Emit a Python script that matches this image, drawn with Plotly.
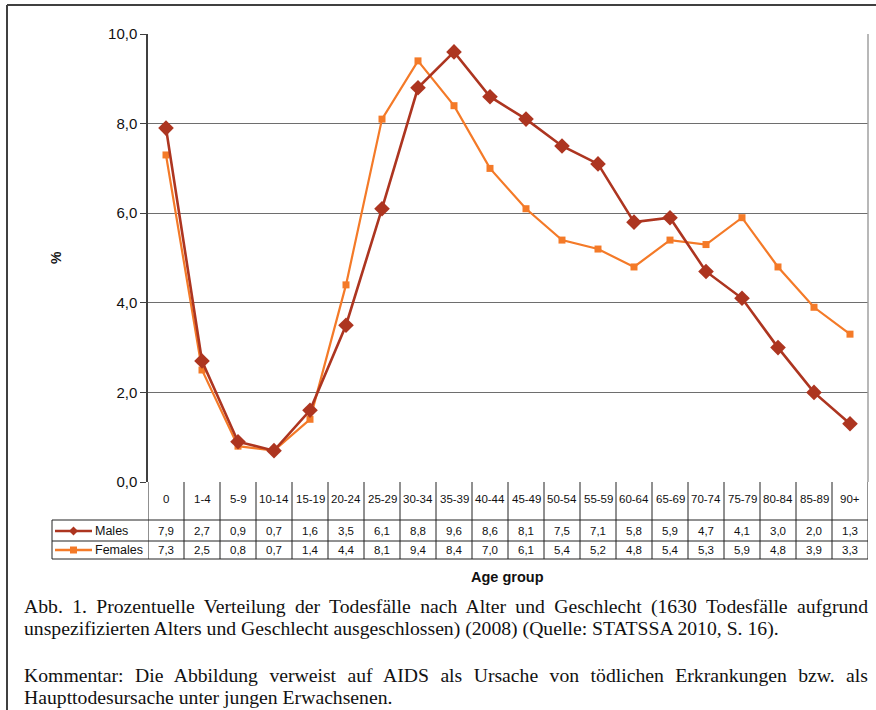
import plotly.graph_objects as go

categories = ["0", "1-4", "5-9", "10-14", "15-19", "20-24", "25-29", "30-34", "35-39",
              "40-44", "45-49", "50-54", "55-59", "60-64", "65-69", "70-74", "75-79",
              "80-84", "85-89", "90+"]
males = [7.9, 2.7, 0.9, 0.7, 1.6, 3.5, 6.1, 8.8, 9.6, 8.6, 8.1, 7.5, 7.1, 5.8, 5.9, 4.7, 4.1, 3.0, 2.0, 1.3]
females = [7.3, 2.5, 0.8, 0.7, 1.4, 4.4, 8.1, 9.4, 8.4, 7.0, 6.1, 5.4, 5.2, 4.8, 5.4, 5.3, 5.9, 4.8, 3.9, 3.3]
y_ticks = [0, 2, 4, 6, 8, 10]
y_tick_labels = ["0,0", "2,0", "4,0", "6,0", "8,0", "10,0"]

W, H = 876, 710
L, R, T, B = 148, 868, 34, 482
n = len(categories)

MALE_C = "#AD3520"
FEMALE_C = "#F47A28"


def px(x):
    return (x - L) / (R - L)


def py(y):
    return (B - y) / (B - T)


def fmt(v):
    return f"{v:.1f}".replace(".", ",")


xs = list(range(n))
fig = go.Figure()
fig.add_trace(go.Scatter(x=xs, y=females, mode="lines+markers", name="Females",
                         line=dict(color=FEMALE_C, width=2.2),
                         marker=dict(symbol="square", size=7, color=FEMALE_C)))
fig.add_trace(go.Scatter(x=xs, y=males, mode="lines+markers", name="Males",
                         line=dict(color=MALE_C, width=2.6),
                         marker=dict(symbol="diamond", size=12, color=MALE_C)))

shapes = []
ann = []
font = "Liberation Sans, Arial, sans-serif"
serif = "Liberation Serif, Times New Roman, serif"
LC = "#222222"

# plot area border (right)
shapes.append(dict(type="line", xref="paper", yref="paper", x0=1, x1=1, y0=0, y1=1,
                   line=dict(color="#a0a0a0", width=1.5)))

# table
y_hdr = py(520)
y_m = py(541)
y_f = py(559)
for i in range(n + 1):
    shapes.append(dict(type="line", xref="x", yref="paper", x0=i - 0.5, x1=i - 0.5,
                       y0=0, y1=y_f, line=dict(color=LC, width=1)))
for yy in (y_hdr, y_m, y_f):
    shapes.append(dict(type="line", xref="paper", yref="paper", x0=px(52), x1=1,
                       y0=yy, y1=yy, line=dict(color=LC, width=1)))
shapes.append(dict(type="line", xref="paper", yref="paper", x0=px(52), x1=px(52),
                   y0=y_hdr, y1=y_f, line=dict(color=LC, width=1)))

cell_font = dict(family=font, size=11.5, color="#111")
for i, c in enumerate(categories):
    ann.append(dict(x=i, y=py(499), xref="x", yref="paper", text=c, showarrow=False,
                    xanchor="center", yanchor="middle", font=cell_font))
    ann.append(dict(x=i, y=py(531), xref="x", yref="paper", text=fmt(males[i]),
                    showarrow=False, xanchor="center", yanchor="middle", font=cell_font))
    ann.append(dict(x=i, y=py(550), xref="x", yref="paper", text=fmt(females[i]),
                    showarrow=False, xanchor="center", yanchor="middle", font=cell_font))

# legend keys in table
for yc, col, name, sym in ((531, MALE_C, "Males", "d"), (550, FEMALE_C, "Females", "s")):
    shapes.append(dict(type="line", xref="paper", yref="paper", x0=px(55), x1=px(92),
                       y0=py(yc), y1=py(yc), line=dict(color=col, width=2.6)))
    cx = 73.5
    if sym == "d":
        path = (f"M {px(cx)},{py(yc-4.5)} L {px(cx+4.5)},{py(yc)} "
                f"L {px(cx)},{py(yc+4.5)} L {px(cx-4.5)},{py(yc)} Z")
    else:
        path = (f"M {px(cx-3.5)},{py(yc-3.5)} L {px(cx+3.5)},{py(yc-3.5)} "
                f"L {px(cx+3.5)},{py(yc+3.5)} L {px(cx-3.5)},{py(yc+3.5)} Z")
    shapes.append(dict(type="path", xref="paper", yref="paper", path=path,
                       fillcolor=col, line=dict(color=col, width=0)))
    ann.append(dict(x=px(93), y=py(yc), xref="paper", yref="paper", text=name,
                    xanchor="left", yanchor="middle", showarrow=False,
                    font=dict(family=font, size=12.5, color="#111")))

# outer frame
shapes.append(dict(type="line", xref="paper", yref="paper", x0=px(7), x1=px(876),
                   y0=py(5), y1=py(5), line=dict(color="#404040", width=2)))
shapes.append(dict(type="line", xref="paper", yref="paper", x0=px(7), x1=px(7),
                   y0=py(5), y1=py(712), line=dict(color="#404040", width=2)))

# axis titles
ann.append(dict(x=px(507), y=py(577), xref="paper", yref="paper", text="<b>Age group</b>",
                xanchor="center", yanchor="middle",
                showarrow=False, font=dict(family=font, size=14.5, color="#111")))
ann.append(dict(x=px(56), y=py(258), xref="paper", yref="paper", text="<b>%</b>", textangle=-90,
                xanchor="center", yanchor="middle",
                showarrow=False, font=dict(family=font, size=14, color="#111")))

# caption
cap = [
    (606, "Abb. 1. Prozentuelle Verteilung der Todesfälle nach Alter und Geschlecht (1630 Todesfälle aufgrund"),
    (628, "unspezifizierten Alters und Geschlecht ausgeschlossen) (2008) (Quelle: STATSSA 2010, S. 16)."),
    (675, "Kommentar: Die Abbildung verweist auf AIDS als Ursache von tödlichen Erkrankungen bzw. als"),
    (697, "Haupttodesursache unter jungen Erwachsenen."),
]
for yy, t in cap:
    ann.append(dict(x=px(22), y=py(yy), xref="paper", yref="paper", text=t, xanchor="left",
                    yanchor="middle",
                    showarrow=False, font=dict(family=serif, size=19.7, color="#111")))

fig.update_layout(
    width=W, height=H,
    margin=dict(l=L, r=W - R, t=T, b=H - B),
    paper_bgcolor="white", plot_bgcolor="white",
    showlegend=False,
    shapes=shapes, annotations=ann,
    xaxis=dict(range=[-0.5, n - 0.5], showticklabels=False, ticks="", showgrid=False,
               zeroline=False, showline=False, fixedrange=True),
    yaxis=dict(range=[0, 10], tickvals=y_ticks, ticktext=y_tick_labels, ticks="outside",
               ticklen=6, tickcolor="#404040", showgrid=True, gridcolor="#6e6e6e",
               gridwidth=1, showline=True, linecolor="#404040", linewidth=1.5,
               zeroline=False, tickfont=dict(family=font, size=15, color="#111"),
               fixedrange=True),
)

post = """
document.body.style.margin = '0';
var gd = document.getElementById('{plot_id}');
gd.querySelectorAll('.annotation-text').forEach(function (t) {
  var s = t.textContent;
  if (s.indexOf('Abb.') === 0 || s.indexOf('Kommentar') === 0) {
    var target = 844;
    var w = t.getComputedTextLength();
    var n = (s.match(/ /g) || []).length;
    if (n > 0 && w < target) {
      var b0 = t.getBBox().x;
      t.style.wordSpacing = ((target - w) / n) + 'px';
      var b1 = t.getBBox().x;
      var x0 = parseFloat(t.getAttribute('x') || '0');
      t.setAttribute('x', x0 + (b0 - b1));
    }
  }
});
"""
fig.write_html("out.html", post_script=post, config={"displayModeBar": False})
